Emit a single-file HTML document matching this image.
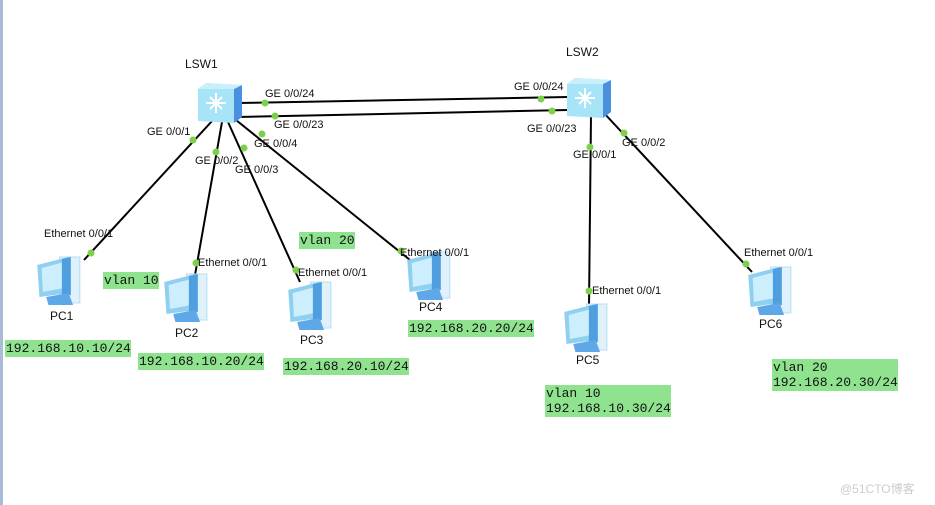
<!DOCTYPE html>
<html><head><meta charset="utf-8"><style>
body{margin:0;background:#fff;width:935px;height:505px;overflow:hidden;position:relative;font-family:"Liberation Sans",sans-serif}
.lb{position:absolute;background:#8fe38f;font-family:"Liberation Mono",monospace;font-size:13px;line-height:15px;padding:1px 0 1px 1px;color:#111;white-space:pre}
</style></head><body>
<div style="position:absolute;left:0;top:0;width:3px;height:505px;background:#a8bcd4"></div>
<svg width="935" height="505" style="position:absolute;left:0;top:0" font-family="Liberation Sans, sans-serif" font-size="11">
<defs>
<g id="pc" transform="scale(1.12,1.0)">
<rect x="22" y="2" width="18" height="46" fill="#dff2fb" stroke="#b8def0"/>
<polygon points="2,10 30,2 30,38 4,42" fill="#8fcff0"/>
<polygon points="6,13 26,7 26,33 7,37" fill="#cdeefc"/>
<polygon points="24,4 32,2 32,40 24,42" fill="#4f9fe0"/>
<polygon points="10,42 30,38 34,50 12,50" fill="#5fa8e8"/>
</g>
<g id="sw">
<polygon points="0,6 8,0 44,2 44,34 36,40 0,38" fill="#a8e4f8"/>
<polygon points="36,6 44,2 44,34 36,40" fill="#4a90e0"/>
<polygon points="0,6 8,0 44,2 36,6" fill="#c8f0fc"/>
<g stroke="#fff" stroke-width="2" fill="none"><path d="M12,14 L24,26 M24,14 L12,26 M18,10 L18,30 M8,20 L28,20"/></g>
</g>
</defs>
<g stroke="#000" stroke-width="2">
<line x1="238" y1="103" x2="568" y2="97"/>
<line x1="238" y1="117" x2="568" y2="110"/>
<line x1="213" y1="120" x2="84" y2="260"/>
<line x1="222" y1="122" x2="195" y2="275"/>
<line x1="228" y1="122" x2="300" y2="282"/>
<line x1="236" y1="120" x2="410" y2="260"/>
<line x1="591" y1="115" x2="589" y2="306"/>
<line x1="603" y1="112" x2="752" y2="272"/>
</g>
<use href="#sw" x="198" y="83"/>
<use href="#sw" x="567" y="78"/>
<g fill="#7cd14a">
<circle cx="265" cy="103" r="3.5"/><circle cx="541" cy="99" r="3.5"/>
<circle cx="275" cy="116" r="3.5"/><circle cx="552" cy="111" r="3.5"/>
<circle cx="193" cy="140" r="3.5"/><circle cx="91" cy="253" r="3.5"/>
<circle cx="216" cy="152" r="3.5"/><circle cx="196" cy="263" r="3.5"/>
<circle cx="244" cy="148" r="3.5"/><circle cx="296" cy="270" r="3.5"/>
<circle cx="262" cy="134" r="3.5"/><circle cx="401" cy="251" r="3.5"/>
<circle cx="590" cy="147" r="3.5"/><circle cx="589" cy="291" r="3.5"/>
<circle cx="624" cy="133" r="3.5"/><circle cx="746" cy="264" r="3.5"/>
</g>
<use href="#pc" x="35" y="255"/>
<use href="#pc" x="162" y="272"/>
<use href="#pc" x="286" y="280"/>
<use href="#pc" x="405" y="250"/>
<use href="#pc" x="562" y="302"/>
<use href="#pc" x="746" y="265"/>
<g fill="#111">
<text x="185" y="68" font-size="12">LSW1</text>
<text x="566" y="56" font-size="12">LSW2</text>
<text x="265" y="97">GE 0/0/24</text>
<text x="274" y="128">GE 0/0/23</text>
<text x="147" y="135">GE 0/0/1</text>
<text x="195" y="164">GE 0/0/2</text>
<text x="235" y="173">GE 0/0/3</text>
<text x="254" y="147">GE 0/0/4</text>
<text x="514" y="90">GE 0/0/24</text>
<text x="527" y="132">GE 0/0/23</text>
<text x="573" y="158">GE 0/0/1</text>
<text x="622" y="146">GE 0/0/2</text>
<text x="44" y="237">Ethernet 0/0/1</text>
<text x="198" y="266">Ethernet 0/0/1</text>
<text x="298" y="276">Ethernet 0/0/1</text>
<text x="400" y="256">Ethernet 0/0/1</text>
<text x="592" y="294">Ethernet 0/0/1</text>
<text x="744" y="256">Ethernet 0/0/1</text>
<g font-size="12">
<text x="50" y="320">PC1</text>
<text x="175" y="337">PC2</text>
<text x="300" y="344">PC3</text>
<text x="419" y="311">PC4</text>
<text x="576" y="364">PC5</text>
<text x="759" y="328">PC6</text>
</g>
<text x="840" y="493" fill="#ccc" font-size="12" font-family="Liberation Sans, Noto Sans CJK SC, sans-serif">@51CTO博客</text>
</g>
</svg>
<div class="lb" style="left:5px;top:340px">192.168.10.10/24</div>
<div class="lb" style="left:103px;top:272px">vlan 10</div>
<div class="lb" style="left:138px;top:353px">192.168.10.20/24</div>
<div class="lb" style="left:299px;top:232px">vlan 20</div>
<div class="lb" style="left:283px;top:358px">192.168.20.10/24</div>
<div class="lb" style="left:408px;top:320px">192.168.20.20/24</div>
<div class="lb" style="left:545px;top:385px">vlan 10
192.168.10.30/24</div>
<div class="lb" style="left:772px;top:359px">vlan 20
192.168.20.30/24</div>
</body></html>
